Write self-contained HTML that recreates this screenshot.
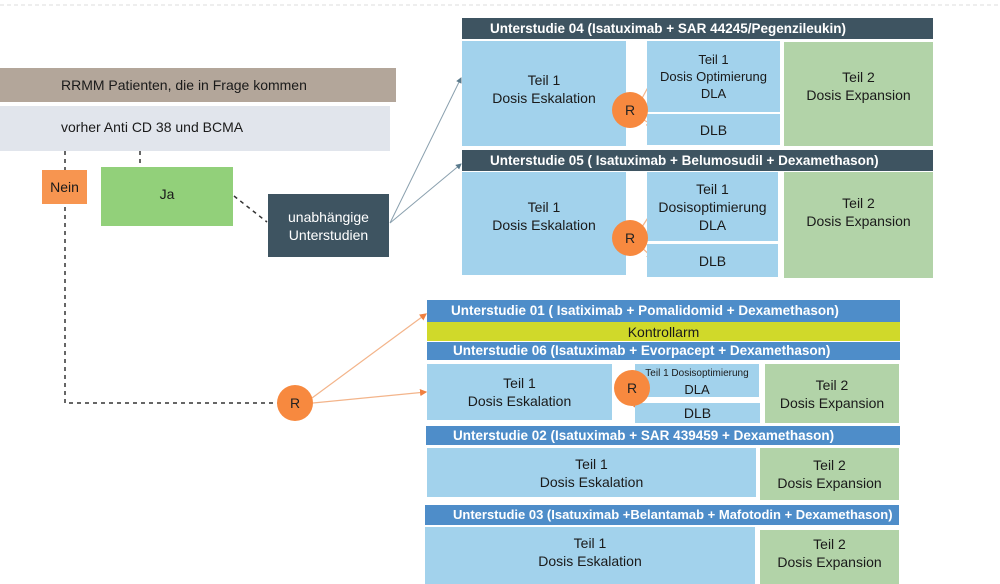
<!DOCTYPE html>
<html><head><meta charset="utf-8"><style>
body{margin:0;width:1000px;height:584px;background:#fff;position:relative;overflow:hidden;font-family:"Liberation Sans",sans-serif;}
.b{position:absolute;box-sizing:border-box;display:flex;align-items:center;justify-content:center;text-align:center;font-size:14px;line-height:18px;color:#1a1a1a;}
.h{color:#fff;font-weight:bold;justify-content:flex-start;padding-left:28px;font-size:13.5px;white-space:nowrap;overflow:hidden;}
.d{background:#3e5461;}
.bl{background:#4e8dc9;}
.lb{background:#a2d2ec;}
.gr{background:#b2d3a8;}
.r{position:absolute;width:36px;height:36px;border-radius:50%;background:#f7893f;color:#222;font-size:14px;display:flex;align-items:center;justify-content:center;}
</style></head><body>
<svg width="1000" height="584" style="position:absolute;left:0;top:0">
<defs>
<marker id="ag" markerWidth="6" markerHeight="6" refX="5" refY="3" orient="auto"><path d="M0,0 L6,3 L0,6z" fill="#5a7a8c"/></marker>
<marker id="ao" markerWidth="6" markerHeight="6" refX="5" refY="3" orient="auto"><path d="M0,0 L6,3 L0,6z" fill="#f08040"/></marker>
</defs>
<line x1="0" y1="5" x2="1000" y2="5" stroke="#ddd" stroke-dasharray="4,3"/>
<g stroke="#333" stroke-width="1.5" stroke-dasharray="4,4" fill="none">
<polyline points="65,151 65,403 278,403"/>
<line x1="140" y1="151" x2="140" y2="163"/>
<line x1="234" y1="196" x2="267" y2="222"/>
</g>
<g stroke="#8aa0ae" stroke-width="1">
<line x1="390" y1="223" x2="461" y2="78" marker-end="url(#ag)"/>
<line x1="390" y1="223" x2="461" y2="164" marker-end="url(#ag)"/>
</g>
<g stroke="#f3b48a" stroke-width="1.2">
<line x1="312" y1="398" x2="426" y2="314" marker-end="url(#ao)"/>
<line x1="313" y1="403" x2="426" y2="392" marker-end="url(#ao)"/>
<line x1="640" y1="102" x2="653" y2="78" marker-end="url(#ao)"/>
<line x1="640" y1="118" x2="653" y2="125" marker-end="url(#ao)"/>
<line x1="640" y1="230" x2="653" y2="210" marker-end="url(#ao)"/>
<line x1="640" y1="246" x2="653" y2="258" marker-end="url(#ao)"/>
<line x1="630" y1="380" x2="640" y2="376" marker-end="url(#ao)"/>
<line x1="628" y1="398" x2="640" y2="408" marker-end="url(#ao)"/>
</g>
</svg>
<div class="b" style="left:0;top:68px;width:396px;height:34px;background:#b3a69a;justify-content:flex-start;padding-left:61px">RRMM Patienten, die in Frage kommen</div>
<div class="b" style="left:0;top:106px;width:390px;height:45px;background:#e1e5ec;justify-content:flex-start;padding-left:61px;align-items:flex-start;padding-top:12px">vorher Anti CD 38 und BCMA</div>
<div class="b" style="left:42px;top:170px;width:45px;height:34px;background:#f79550">Nein</div>
<div class="b" style="left:101px;top:167px;width:132px;height:59px;background:#92d07a;align-items:flex-start;padding-top:18px">Ja</div>
<div class="b" style="left:268px;top:194px;width:121px;height:63px;background:#3e5461;color:#fff">unabhängige<br>Unterstudien</div>
<div class="r" style="left:277px;top:385px">R</div>

<div class="b h d" style="left:462px;top:18px;width:471px;height:21px">Unterstudie 04 (Isatuximab + SAR 44245/Pegenzileukin)</div>
<div class="b lb" style="left:462px;top:41px;width:164px;height:105px;padding-bottom:10px">Teil 1<br>Dosis Eskalation</div>
<div class="b lb" style="left:647px;top:41px;width:133px;height:71px;font-size:13px;line-height:17px">Teil 1<br>Dosis Optimierung<br>DLA</div>
<div class="b lb" style="left:647px;top:114px;width:133px;height:31px">DLB</div>
<div class="b gr" style="left:784px;top:42px;width:149px;height:104px;padding-bottom:16px">Teil 2<br>Dosis Expansion</div>
<div class="r" style="left:612px;top:92px">R</div>

<div class="b h d" style="left:462px;top:150px;width:471px;height:21px">Unterstudie 05 ( Isatuximab + Belumosudil + Dexamethason)</div>
<div class="b lb" style="left:462px;top:172px;width:164px;height:103px;padding-bottom:16px">Teil 1<br>Dosis Eskalation</div>
<div class="b lb" style="left:647px;top:172px;width:131px;height:69px">Teil 1<br>Dosisoptimierung<br>DLA</div>
<div class="b lb" style="left:647px;top:244px;width:131px;height:33px">DLB</div>
<div class="b gr" style="left:784px;top:172px;width:149px;height:106px;padding-bottom:26px">Teil 2<br>Dosis Expansion</div>
<div class="r" style="left:612px;top:220px">R</div>

<div class="b h bl" style="left:427px;top:300px;width:473px;height:22px;padding-left:24px">Unterstudie 01 ( Isatiximab + Pomalidomid + Dexamethason)</div>
<div class="b" style="left:427px;top:322px;width:473px;height:19px;background:#d0d92a">Kontrollarm</div>
<div class="b h bl" style="left:427px;top:342px;width:473px;height:18px;padding-left:26px">Unterstudie 06 (Isatuximab + Evorpacept + Dexamethason)</div>
<div class="b lb" style="left:427px;top:364px;width:185px;height:56px">Teil 1<br>Dosis Eskalation</div>
<div class="b lb" style="left:635px;top:364px;width:124px;height:33px;font-size:13px;line-height:16px"><span><span style="font-size:10px">Teil 1 Dosisoptimierung</span><br>DLA</span></div>
<div class="b lb" style="left:635px;top:403px;width:125px;height:20px">DLB</div>
<div class="b gr" style="left:765px;top:364px;width:134px;height:59px">Teil 2<br>Dosis Expansion</div>
<div class="r" style="left:614px;top:370px">R</div>

<div class="b h bl" style="left:426px;top:426px;width:474px;height:19px;padding-left:27px">Unterstudie 02 (Isatuximab + SAR 439459 + Dexamethason)</div>
<div class="b lb" style="left:427px;top:448px;width:329px;height:49px">Teil 1<br>Dosis Eskalation</div>
<div class="b gr" style="left:760px;top:448px;width:139px;height:52px">Teil 2<br>Dosis Expansion</div>

<div class="b h bl" style="left:425px;top:505px;width:474px;height:20px;padding-left:28px;font-size:13px">Unterstudie 03 (Isatuximab +Belantamab + Mafotodin + Dexamethason)</div>
<div class="b lb" style="left:425px;top:527px;width:330px;height:57px;padding-bottom:8px">Teil 1<br>Dosis Eskalation</div>
<div class="b gr" style="left:760px;top:530px;width:139px;height:54px;padding-bottom:8px">Teil 2<br>Dosis Expansion</div>
</body></html>
